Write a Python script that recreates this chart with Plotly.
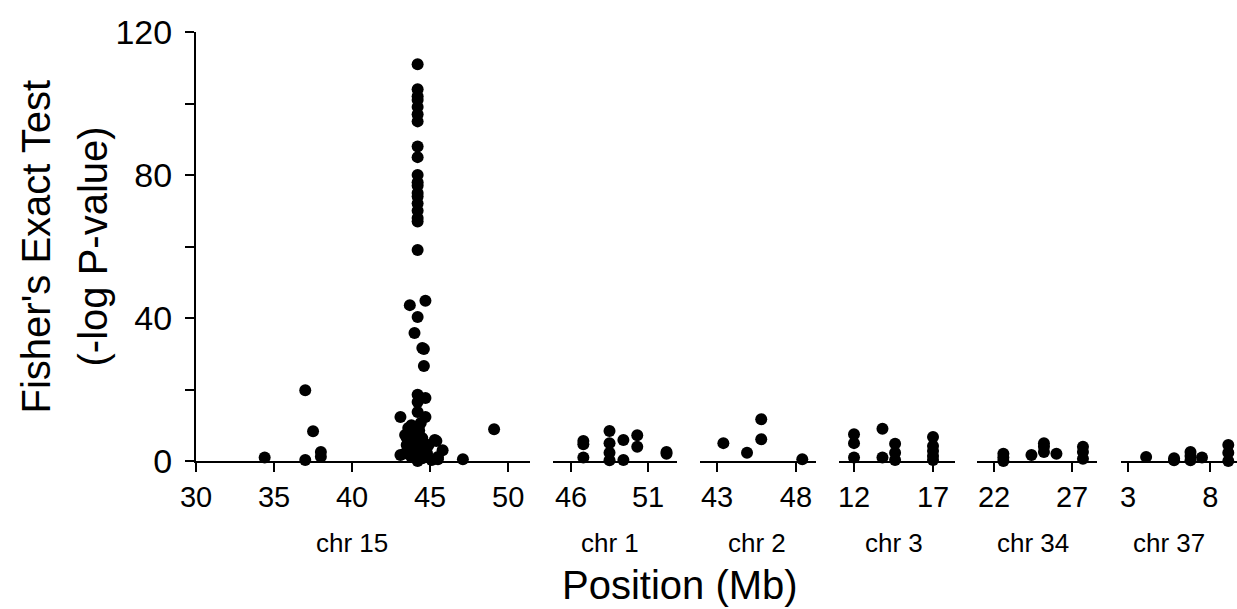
import plotly.graph_objects as go

# ---------------- data ----------------
chr_names = ["chr 15", "chr 1", "chr 2", "chr 3", "chr 34", "chr 37"]

chr15_x = [34.4, 37.0, 37.0, 37.5, 38.0, 38.0,
           44.2, 44.2, 44.2, 44.2, 44.2, 44.2, 44.2,
           44.2, 44.2,
           44.2, 44.2, 44.2, 44.2, 44.2, 44.2, 44.2, 44.2, 44.2,
           44.2,
           43.7, 44.7, 44.2, 44.0, 44.5, 44.6, 44.6, 44.2, 44.7,
           43.1, 44.2, 44.2, 44.7, 44.4, 43.6, 43.4, 43.9, 44.5, 43.5,
           44.2, 44.9, 45.3, 45.8, 43.1, 43.8, 44.5, 45.1, 45.5, 44.8,
           44.2, 43.4, 43.7, 44.0, 44.2, 44.6, 45.4, 45.5, 47.1, 49.1,
           43.5, 44.0, 44.3, 43.8]
chr15_y = [1.0, 0.3, 19.8, 8.3, 2.5, 1.2,
           111, 104, 102, 101, 99, 97, 95,
           88, 85,
           80, 78, 77, 75, 74, 72, 70, 68, 67,
           59,
           43.6, 44.8, 40.3, 35.8, 31.6, 31.3, 26.6, 18.5, 17.6,
           12.3, 16.5, 13.7, 12.3, 10.6, 9.2, 7.3, 7.8, 6.4, 4.5,
           3.9, 4.5, 5.9, 3.0, 1.7, 1.1, 0.8, 0.3, 1.1, 2.2,
           0.0, 2.2, 5.9, 5.9, 2.5, 3.9, 5.6, 0.5, 0.5, 8.9,
           6.5, 3.0, 8.5, 10.0]

chr1_x = [46.8, 46.8, 46.8, 48.5, 48.5, 48.5, 48.5, 49.4, 49.4, 50.3, 50.3, 52.2, 52.2]
chr1_y = [5.6, 4.7, 1.0, 8.4, 5.0, 2.3, 0.2, 5.9, 0.3, 7.2, 4.0, 2.5, 2.0]

chr2_x = [43.4, 44.9, 45.8, 45.8, 48.4]
chr2_y = [5.0, 2.3, 11.7, 6.1, 0.5]

chr3_x = [12.0, 12.0, 12.0, 13.8, 13.8, 14.6, 14.6, 14.6, 17.0, 17.0, 17.0, 17.0, 17.0]
chr3_y = [7.5, 5.0, 1.0, 9.0, 1.0, 4.8, 2.3, 0.3, 6.7, 4.2, 2.8, 1.4, 0.3]

chr34_x = [22.6, 22.6, 22.6, 24.4, 25.2, 25.2, 25.2, 26.0, 27.7, 27.7, 27.7]
chr34_y = [2.0, 1.0, 0.0, 1.7, 5.0, 4.0, 2.5, 2.0, 4.0, 2.5, 0.6]

chr37_x = [4.1, 5.8, 5.8, 6.8, 6.8, 6.8, 7.5, 9.1, 9.1, 9.1]
chr37_y = [1.1, 0.8, 0.2, 2.5, 1.4, 0.2, 1.0, 4.5, 2.3, 0.0]

chr_ticks = [[30, 35, 40, 45, 50], [46, 51], [43, 48], [12, 17], [22, 27], [3, 8]]
chr_label_pos = [40, 48.5, 45.5, 14.5, 24.5, 5.5]

y_ticks = [0, 40, 80, 120]
y_minor = [20, 60, 100]

# ---------------- layout constants ----------------
W, H = 1237, 609
L, R, T, B = 196, 0, 32, 148
panel_px = [(196, 530), (553, 677), (700, 816), (839, 955), (977, 1097), (1121, 1237)]
ranges = [[30, 51.4], [44.83, 52.88], [41.92, 49.27], [11.05, 18.39], [20.91, 28.6], [2.57, 9.63]]
plot_w = W - L - R
plot_h = H - T - B
FONT = "Liberation Sans, Arial, sans-serif"

xs = [chr15_x, chr1_x, chr2_x, chr3_x, chr34_x, chr37_x]
ys = [chr15_y, chr1_y, chr2_y, chr3_y, chr34_y, chr37_y]

fig = go.Figure()
layout = dict(
    width=W, height=H,
    margin=dict(l=L, r=R, t=T, b=B, pad=0),
    plot_bgcolor="white", paper_bgcolor="white",
    showlegend=False,
    font=dict(family=FONT, color="black"),
)

for i in range(6):
    xname = "x" if i == 0 else f"x{i+1}"
    axkey = "xaxis" if i == 0 else f"xaxis{i+1}"
    fig.add_trace(go.Scatter(
        x=xs[i], y=ys[i], mode="markers", xaxis=xname, yaxis="y",
        marker=dict(color="black", size=12, line=dict(width=0)),
        cliponaxis=False,
    ))
    a, b = panel_px[i]
    layout[axkey] = dict(
        domain=[(a - L) / plot_w, (b - L) / plot_w],
        range=ranges[i], anchor="y",
        showgrid=False, zeroline=False,
        showline=True, linecolor="black", linewidth=2,
        ticks="outside", ticklen=9, tickwidth=2, tickcolor="black",
        tickvals=chr_ticks[i], ticktext=[str(v) for v in chr_ticks[i]],
        tickfont=dict(size=29, family=FONT, color="black"),
    )

layout["yaxis"] = dict(
    domain=[0, 1], range=[0, 120], anchor="x",
    showgrid=False, zeroline=False,
    showline=True, linecolor="black", linewidth=2,
    ticks="outside", ticklen=9, tickwidth=2, tickcolor="black",
    tickvals=y_ticks, ticktext=[str(v) for v in y_ticks],
    minor=dict(tickvals=y_minor, ticks="outside", ticklen=9, tickwidth=2, tickcolor="black"),
    tickfont=dict(size=34, family=FONT, color="black"),
    ticklabelstandoff=6,
)

annotations = []
for i in range(6):
    xname = "x" if i == 0 else f"x{i+1}"
    annotations.append(dict(
        text=chr_names[i], xref=xname, x=chr_label_pos[i],
        yref="paper", y=(461 - 543) / plot_h, yanchor="middle", xanchor="center",
        showarrow=False, font=dict(size=26, family=FONT, color="black"),
    ))
annotations.append(dict(
    text="Position (Mb)", xref="paper", x=(680 - L) / plot_w,
    yref="paper", y=(461 - 585) / plot_h, xanchor="center", yanchor="middle",
    showarrow=False, font=dict(size=40, family=FONT, color="black"),
))
annotations.append(dict(
    text="Fisher's Exact Test", xref="paper", x=(35 - L) / plot_w,
    yref="paper", y=0.5, xanchor="center", yanchor="middle", textangle=-90,
    showarrow=False, font=dict(size=40, family=FONT, color="black"),
))
annotations.append(dict(
    text="(-log P-value)", xref="paper", x=(92 - L) / plot_w,
    yref="paper", y=0.5, xanchor="center", yanchor="middle", textangle=-90,
    showarrow=False, font=dict(size=40, family=FONT, color="black"),
))
layout["annotations"] = annotations

fig.update_layout(**layout)
fig.write_html("out.html", config={"displayModeBar": False},
               post_script="document.body.style.margin='0';document.body.style.overflow='hidden';")
